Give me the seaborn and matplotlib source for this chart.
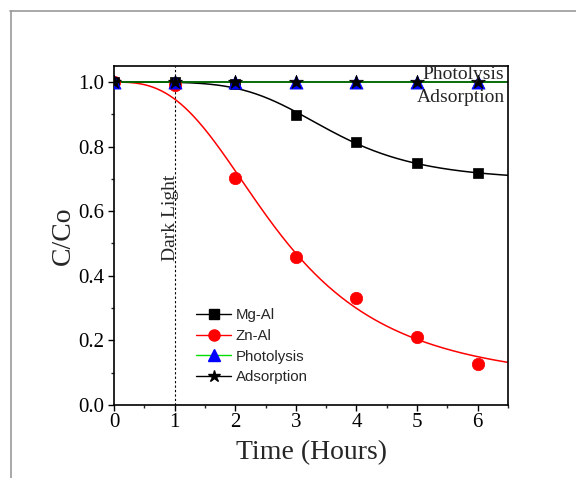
import numpy as np
import pandas as pd
import matplotlib
matplotlib.use("Agg")
import matplotlib.pyplot as plt
from matplotlib.lines import Line2D
from matplotlib.ticker import MultipleLocator
import seaborn as sns

# Values
time_h = [0, 1, 2, 3, 4, 5, 6]
mg_al = [1.0, 1.0, 0.995, 0.898, 0.815, 0.748, 0.717]
zn_al = [1.0, 0.99, 0.703, 0.459, 0.330, 0.210, 0.128]
photolysis = [1.0, 1.0, 1.0, 1.0, 1.0, 1.0, 1.0]
adsorption = [1.0, 1.0, 1.0, 1.0, 1.0, 1.0, 1.0]

df = pd.DataFrame({"Time": time_h, "Mg-Al": mg_al, "Zn-Al": zn_al,
                   "Photolysis": photolysis, "Adsorption": adsorption})


def logistic_fit(x, y, x_new):
    """Least-squares logistic fit y = A2 + (1-A2)/(1+(x/x0)**p), curve starting at C/Co = 1."""
    x = np.asarray(x, float)
    y = np.asarray(y, float)
    best = None
    for x0 in np.linspace(1.0, 8.0, 141):
        for p in np.linspace(1.0, 6.0, 101):
            g = 1 - 1 / (1 + (x / x0) ** p)
            c = np.dot(g, 1 - y) / np.dot(g, g)
            err = np.sum((1 - c * g - y) ** 2)
            if best is None or err < best[0]:
                best = (err, x0, p, c)
    _, x0, p, c = best
    return 1 - c * (1 - 1 / (1 + (x_new / x0) ** p))


t_fine = np.linspace(0, 6.5, 300)
fits = pd.DataFrame({"Time": t_fine,
                     "Mg-Al": logistic_fit(time_h, mg_al, t_fine),
                     "Zn-Al": logistic_fit(time_h, zn_al, t_fine)})

sns.set_theme(style="ticks")
plt.rcParams["font.family"] = ["Liberation Serif", "DejaVu Serif"]

fig = plt.figure(figsize=(5.76, 4.78), dpi=100)
ax = fig.add_axes([0.198, 0.153, 0.684, 0.709])
ax.set_xlim(0, 6.5)
ax.set_ylim(0, 1.05)

# fitted curves
sns.lineplot(data=fits, x="Time", y="Mg-Al", color="black", lw=1.1, ax=ax)
sns.lineplot(data=fits, x="Time", y="Zn-Al", color="red", lw=1.1, ax=ax)
sns.regplot(data=df, x="Time", y="Adsorption", order=1, ci=None, scatter=False, truncate=False,
            line_kws={"color": "black", "lw": 1.1}, ax=ax)
sns.regplot(data=df, x="Time", y="Photolysis", order=1, ci=None, scatter=False, truncate=False,
            line_kws={"color": "green", "lw": 1.1}, ax=ax)

# data points
sns.scatterplot(data=df, x="Time", y="Zn-Al", marker="o", color="red", s=80,
                edgecolor="red", linewidth=0.5, ax=ax, zorder=3)
sns.scatterplot(data=df, x="Time", y="Mg-Al", marker="s", color="black", s=60,
                edgecolor="black", linewidth=0.5, ax=ax, zorder=3)
sns.scatterplot(data=df, x="Time", y="Photolysis", marker="^", color="blue", s=90,
                edgecolor="blue", linewidth=0.5, ax=ax, zorder=4)
sns.scatterplot(data=df, x="Time", y="Adsorption", marker="*", color="black", s=110,
                edgecolor="black", linewidth=0.5, ax=ax, zorder=5)

# dark / light boundary
ax.axvline(1, color="black", lw=0.8, ls=(0, (2, 2)), zorder=1)
ax.text(0.93, 0.58, "Dark Light", rotation=90, ha="center", va="center", fontsize=14)

ax.text(6.43, 1.025, "Photolysis", ha="right", va="center", fontsize=14, zorder=6)
ax.text(6.45, 0.952, "Adsorption", ha="right", va="center", fontsize=14, zorder=6)

ax.set_xlabel("Time (Hours)", fontsize=20, labelpad=6)
ax.set_ylabel("C/Co", fontsize=20, labelpad=2)
ax.xaxis.set_major_locator(MultipleLocator(1))
ax.xaxis.set_minor_locator(MultipleLocator(0.5))
ax.set_yticks([0, 0.2, 0.4, 0.6, 0.8, 1.0])
ax.set_yticklabels(["0.0", "0.2", "0.4", "0.6", "0.8", "1.0"])
ax.yaxis.set_minor_locator(MultipleLocator(0.1))
ax.tick_params(which="major", direction="out", length=4, width=1, labelsize=15, colors="black")
ax.tick_params(axis="x", which="major", pad=2)
ax.tick_params(axis="y", which="major", pad=3)
ax.tick_params(which="minor", direction="out", length=2.5, width=1)
for sp in ax.spines.values():
    sp.set_color("black")
    sp.set_linewidth(1.2)

handles = [
    Line2D([], [], color="black", marker="s", markersize=7, lw=1),
    Line2D([], [], color="red", marker="o", markersize=8, lw=1),
    Line2D([], [], color="#00dd00", marker="^", markersize=9, markerfacecolor="blue",
           markeredgecolor="blue", lw=1),
    Line2D([], [], color="black", marker="*", markersize=9, lw=1),
]
ax.legend(handles, ["Mg-Al", "Zn-Al", "Photolysis", "Adsorption"], loc="upper left",
          bbox_to_anchor=(0.175, 0.325), frameon=False, handlelength=2.3, handletextpad=0.3,
          labelspacing=0.45, prop={"family": "Liberation Sans", "size": 10.8})

# grey outer frame
fig.add_artist(Line2D([10 / 576, 1], [1 - 11 / 478, 1 - 11 / 478], color="#999999", lw=1.2))
fig.add_artist(Line2D([11 / 576, 11 / 576], [0, 1 - 11 / 478], color="#999999", lw=1.2))

fig.savefig("out.png", dpi=100)
